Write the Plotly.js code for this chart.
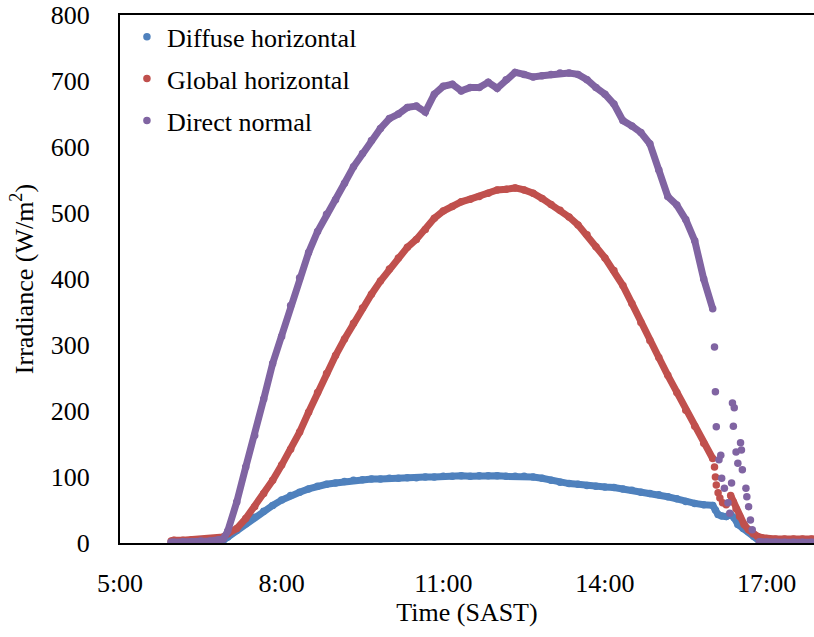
<!DOCTYPE html>
<html>
<head>
<meta charset="utf-8">
<script src="https://cdn.plot.ly/plotly-3.0.1.min.js"></script>
<style>html,body{margin:0;padding:0;background:#fff;}#chart{width:814px;height:637px;}</style>
</head>
<body>
<div id="chart"></div>
<script>
// ---- Data (time of day SAST, irradiance W/m2) ----
const seriesNames = ["Diffuse horizontal", "Global horizontal", "Direct normal"];
const xTickVals = ["5:00", "8:00", "11:00", "14:00", "17:00"];

const dayTimes = ["5:57","6:00","6:10","6:20","6:30","6:40","6:50","6:55","7:00","7:10","7:20","7:30","7:40","7:50",
  "8:00","8:10","8:20","8:30","8:40","8:50","9:00","9:10","9:20","9:30","9:40","9:50",
  "10:00","10:10","10:20","10:30","10:40","10:50","11:00","11:10","11:20","11:30","11:40","11:50",
  "12:00","12:10","12:20","12:30","12:40","12:50","13:00","13:10","13:20","13:30","13:40","13:50",
  "14:00","14:10","14:20","14:30","14:40","14:50","15:00","15:10","15:20","15:30","15:40","15:50","16:00"];

const diffuseDay = [1,1,1,1,2,2,3,4,9,19,29,39,48,57,
  65,72,77,82,86,89,91,93,95,96,97,97,
  98,98,99,99,100,100,101,101,102,101,102,102,
  102,101,101,101,100,98,95,92,90,89,87,86,
  85,84,82,80,77,75,73,70,67,63,60,58,57];

const globalDay = [3,4,4,5,5,6,8,9,14,22,37,55,75,95,
  118,142,168,198,228,257,284,309,333,356,377,397,
  415,432,448,460,475,492,503,510,517,521,525,530,
  535,536,538,535,530,522,513,504,494,482,467,449,
  432,413,390,363,334,307,281,254,228,201,177,151,128];

const directDay = [1,1,2,2,3,3,5,6,18,62,115,163,218,272,
  313,360,402,440,472,498,520,545,570,590,610,628,
  643,650,660,662,653,680,692,695,685,690,690,698,
  689,702,713,710,706,708,710,712,712,710,702,690,
  680,665,640,632,622,605,565,525,512,490,458,400,355];

// late afternoon (after the clouds arrive)
const diffuseDuskTimes = ["16:03","16:06","16:10","16:15","16:20","16:24","16:28","16:34","16:40","16:46","16:52","17:00","17:10","17:20","17:30","17:40","17:50","17:55"];
const diffuseDusk = [50,43,41,40,43,38,28,22,17,10,3,1,1,1,1,1,1,1];

const globalDotTimes = ["16:02","16:03","16:04","16:06","16:08","16:11","16:15"];
const globalDots = [115,100,88,76,68,61,58];
const globalDuskTimes = ["16:20","16:23","16:26","16:30","16:35","16:40","16:45","16:50","16:55","17:00","17:10","17:20","17:30","17:40","17:50","17:55"];
const globalDusk = [72,62,52,40,28,20,14,10,8,7,6,6,6,6,6,6];

const directDotTimes = ["16:02","16:03","16:04","16:07","16:09","16:10","16:13","16:17","16:19","16:21","16:22","16:23","16:24","16:26","16:28","16:31","16:32","16:33","16:37","16:38","16:40","16:42","16:44"];
const directDots = [297,229,176,126,133,98,83,61,45,91,212,177,205,138,121,152,141,111,83,70,55,35,20];
const directDuskTimes = ["16:52","17:00","17:10","17:20","17:30","17:40","17:50","17:55"];
const directDusk = [2,1,1,1,1,1,1,1];

const colors = ["#4F81BD", "#C0504D", "#8064A2"];

// ---- helpers ----
function toHours(t){ const p = t.split(":"); return +p[0] + (+p[1])/60; }
const hrs = a => a.map(toHours);

function seriesTraces(i, lineParts, dotTimes, dotVals){
  let lx = [], ly = [];
  lineParts.forEach((p, k) => {
    if (k > 0){ lx.push(null); ly.push(null); }
    lx = lx.concat(hrs(p[0])); ly = ly.concat(p[1]);
  });
  let mx = [], my = [];
  lineParts.forEach(p => { mx = mx.concat(hrs(p[0])); my = my.concat(p[1]); });
  mx = mx.concat(hrs(dotTimes)); my = my.concat(dotVals);
  return [
    {x: lx, y: ly, type: "scatter", mode: "lines", connectgaps: false,
     line: {color: colors[i], width: 7}, legendgroup: "g" + i, showlegend: false, hoverinfo: "skip"},
    {x: mx, y: my, type: "scatter", mode: "markers", name: seriesNames[i],
     marker: {color: colors[i], size: 7.5}, legendgroup: "g" + i, showlegend: true}
  ];
}

const traces = [].concat(
  seriesTraces(0, [[dayTimes.concat(diffuseDuskTimes), diffuseDay.concat(diffuseDusk)]], [], []),
  seriesTraces(1, [[dayTimes, globalDay], [globalDuskTimes, globalDusk]], globalDotTimes, globalDots),
  seriesTraces(2, [[dayTimes, directDay], [directDuskTimes, directDusk]], directDotTimes, directDots)
);

const fontFam = '"Liberation Serif", "Times New Roman", serif';
const layout = {
  width: 814, height: 637,
  margin: {l: 120, r: 0, t: 15, b: 94},
  paper_bgcolor: "#fff", plot_bgcolor: "#fff",
  font: {family: fontFam, size: 26, color: "#000"},
  showlegend: true,
  legend: {x: 0.01, y: 1.003, xanchor: "left", yanchor: "top", bgcolor: "rgba(0,0,0,0)",
           font: {family: fontFam, size: 26, color: "#000"}, traceorder: "grouped", tracegroupgap: 5},
  xaxis: {
    range: [5, 17.88], showgrid: false, zeroline: false,
    showline: true, linecolor: "#000", linewidth: 2, mirror: true,
    ticks: "", tickvals: hrs(xTickVals), ticktext: xTickVals,
    ticklabelstandoff: 16,
    title: {text: "Time (SAST)", font: {family: fontFam, size: 26, color: "#000"}, standoff: 2}
  },
  yaxis: {
    range: [0, 800], dtick: 100, showgrid: false, zeroline: false,
    showline: true, linecolor: "#000", linewidth: 2,
    ticks: "", ticklabelstandoff: 23,
    title: {text: "Irradiance (W/m<sup>2</sup>)", font: {family: fontFam, size: 26, color: "#000"}, standoff: 10}
  }
};

Plotly.newPlot("chart", traces, layout, {displayModeBar: false, staticPlot: true});
</script>
</body>
</html>
